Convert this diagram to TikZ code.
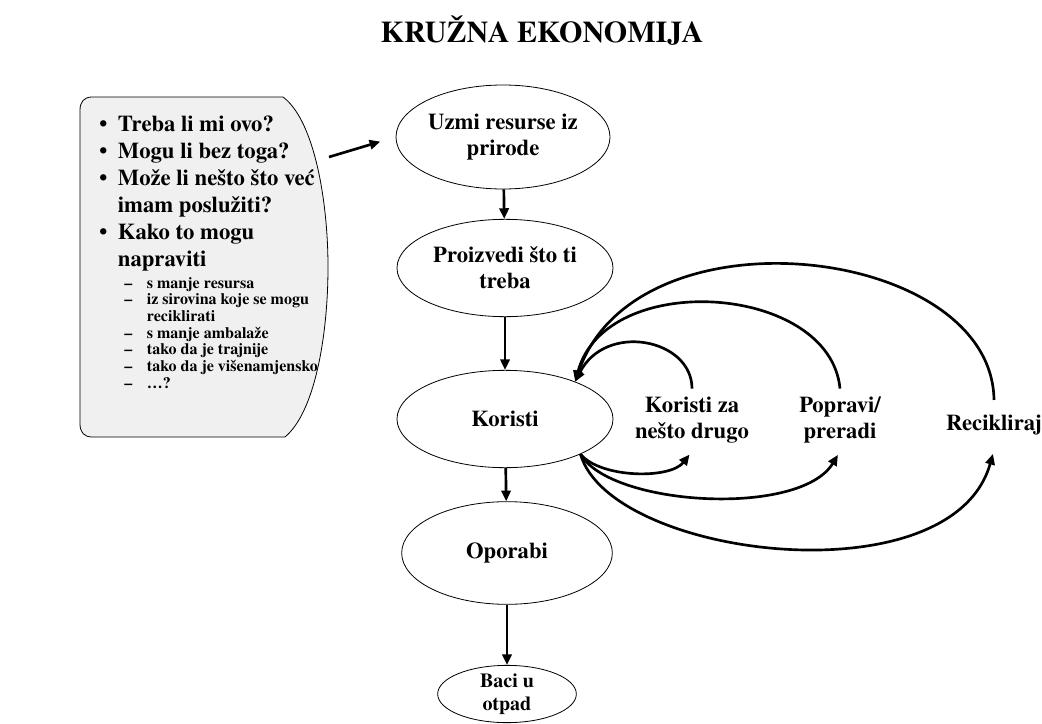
\documentclass[tikz,border=0pt]{standalone}
\usepackage{fontspec}
\setmainfont{TeX Gyre Termes}
\usetikzlibrary{arrows.meta, shapes, positioning, calc}

\tikzset{
  faza/.style={ellipse, draw, line width=0.6pt, inner sep=0pt, align=center,
    font=\fontsize{17}{19.5}\selectfont\bfseries},
  oznaka/.style={align=center, inner xsep=0pt, inner ysep=6pt,
    font=\fontsize{17}{19.5}\selectfont\bfseries},
  tok/.style={-{Triangle[length=8pt, width=7pt]}, line width=2pt},
}

\begin{document}
\begin{tikzpicture}[x=0.75pt, y=-0.75pt]
\useasboundingbox (0,0) rectangle (1042,724);

\node[font=\fontsize{22.6}{26}\selectfont\bfseries] (naslov) at (542,31) {KRUŽNA EKONOMIJA};

% lijevi okvir s pitanjima
\draw[line width=0.6pt, fill=black!6] (92,97) -- (283,97)
  .. controls (314,120) and (328,200) .. (328,267)
  .. controls (328,335) and (315,412) .. (285,437) -- (92,437)
  .. controls (84,437) and (80,432) .. (80,424) -- (80,110)
  .. controls (80,102) and (84,97) .. (92,97);
\node[anchor=north west, inner sep=0pt, align=left,
  font=\fontsize{17}{20.2}\selectfont\bfseries] (pitanja) at (99,116) {%
  \makebox[14pt][l]{•}Treba li mi ovo?\\
  \makebox[14pt][l]{•}Mogu li bez toga?\\
  \makebox[14pt][l]{•}Može li nešto što već\\
  \makebox[14pt][l]{}imam poslužiti?\\
  \makebox[14pt][l]{•}Kako to mogu\\
  \makebox[14pt][l]{}napraviti};
\node[anchor=north west, inner sep=0pt, align=left,
  font=\fontsize{12}{12.5}\selectfont\bfseries] (nacini) at (124,277) {%
  \makebox[17pt][l]{–}s manje resursa\\
  \makebox[17pt][l]{–}iz sirovina koje se mogu\\
  \makebox[17pt][l]{}reciklirati\\
  \makebox[17pt][l]{–}s manje ambalaže\\
  \makebox[17pt][l]{–}tako da je trajnije\\
  \makebox[17pt][l]{–}tako da je višenamjensko\\
  \makebox[17pt][l]{–}…?};
\coordinate (izlaz) at (329,157);

% glavni tok
\node[faza, minimum width=160.5pt, minimum height=78pt] (uzmi) at (503,137) {Uzmi resurse iz\\prirode};
\node[faza, minimum width=162pt, minimum height=73pt] (proizvedi) at (505,268) {Proizvedi što ti\\treba};
\node[faza, minimum width=162pt, minimum height=73pt] (koristi) at (505,419) {Koristi};
\node[faza, minimum width=158pt, minimum height=77pt] (oporabi) at (507,553) {Oporabi};
\node[faza, minimum width=104pt, minimum height=40pt,
  font=\fontsize{15}{17}\selectfont\bfseries] (baci) at (507,694) {Baci u\\otpad};

\node[oznaka] (drugo) at (692,420) {Koristi za\\nešto drugo};
\node[oznaka] (popravi) at (840,420) {Popravi/\\preradi};
\node[oznaka, inner ysep=11pt] (recikliraj) at (994,425) {Recikliraj};

\draw[tok, shorten >=12pt] (izlaz) -- (uzmi.west);
\draw[tok] (uzmi) -- (proizvedi);
\draw[tok] (proizvedi) -- (koristi);
\draw[tok] (koristi) -- (oporabi);
\draw[tok] (oporabi) -- (baci);

% povratne petlje
\draw[tok] (drugo.north) .. controls +(0,-50) and +(30,-60) .. (koristi.28);
\draw[tok] (popravi.north) .. controls +(-10,-105) and +(30,-113) .. (koristi.28);
\draw[tok] (recikliraj.north) .. controls +(-2,-155) and +(60,-178) .. (koristi.28);

\draw[tok, shorten >=3pt] (koristi.-25) .. controls +(20,24) and +(-22,28) .. (drugo.south);
\draw[tok, shorten >=3pt] (koristi.-25) .. controls +(30,52) and +(-40,66) .. (popravi.south);
\draw[tok, shorten >=3pt] (koristi.-25) .. controls +(30,104) and +(-42,150) .. (recikliraj.south);
\end{tikzpicture}
\end{document}
